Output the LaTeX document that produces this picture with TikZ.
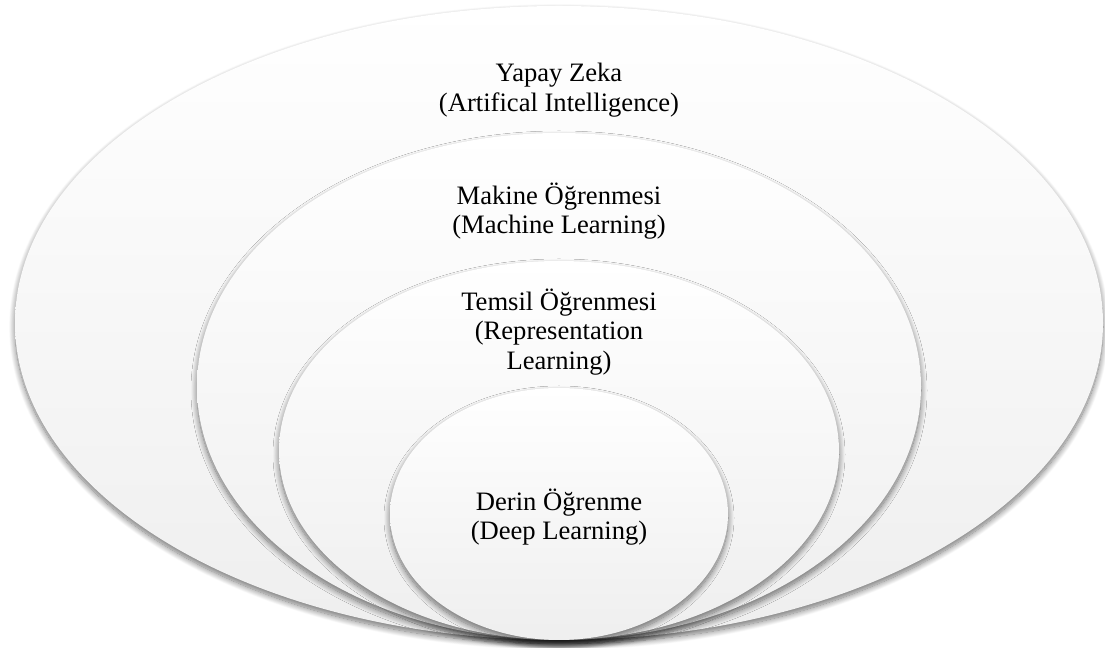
\documentclass[tikz,border=0pt]{standalone}
\usepackage{fontspec}
\setmainfont{Liberation Serif}
\usetikzlibrary{shapes.geometric,shadows.blur}

\begin{document}
\begin{tikzpicture}[x=0.5pt,y=0.5pt,
  layer/.style={ellipse,inner sep=0pt,outer sep=0pt,shading=axis,top color=white,bottom color=gray!13,
    blur shadow={shadow xshift=0pt,shadow yshift=-2pt,shadow blur radius=3pt,shadow blur steps=14,shadow opacity=55}},
  lbl/.style={align=center,inner sep=0pt,font=\fontsize{13.3}{14.8}\selectfont}]

\useasboundingbox (0,0) rectangle (1105,648);

% nested layers, all touching at the bottom
\node[layer,minimum width=544pt,minimum height=317pt] (ai) at (559,325) {};
\node[layer,minimum width=362pt,minimum height=253.5pt] (ml) at (559,261.5) {};
\node[layer,minimum width=280pt,minimum height=189.5pt] (rl) at (559,197.5) {};
\node[layer,minimum width=169pt,minimum height=126pt] (dl) at (559,134) {};

\node[lbl] (aitext) at (559,558) {Yapay Zeka\\(Artifical Intelligence)};
\node[lbl] (mltext) at (559,437) {Makine Öğrenmesi\\(Machine Learning)};
\node[lbl] (rltext) at (559,316) {Temsil Öğrenmesi\\(Representation\\Learning)};
\node[lbl] (dltext) at (559,131) {Derin Öğrenme\\(Deep Learning)};
\end{tikzpicture}
\end{document}
